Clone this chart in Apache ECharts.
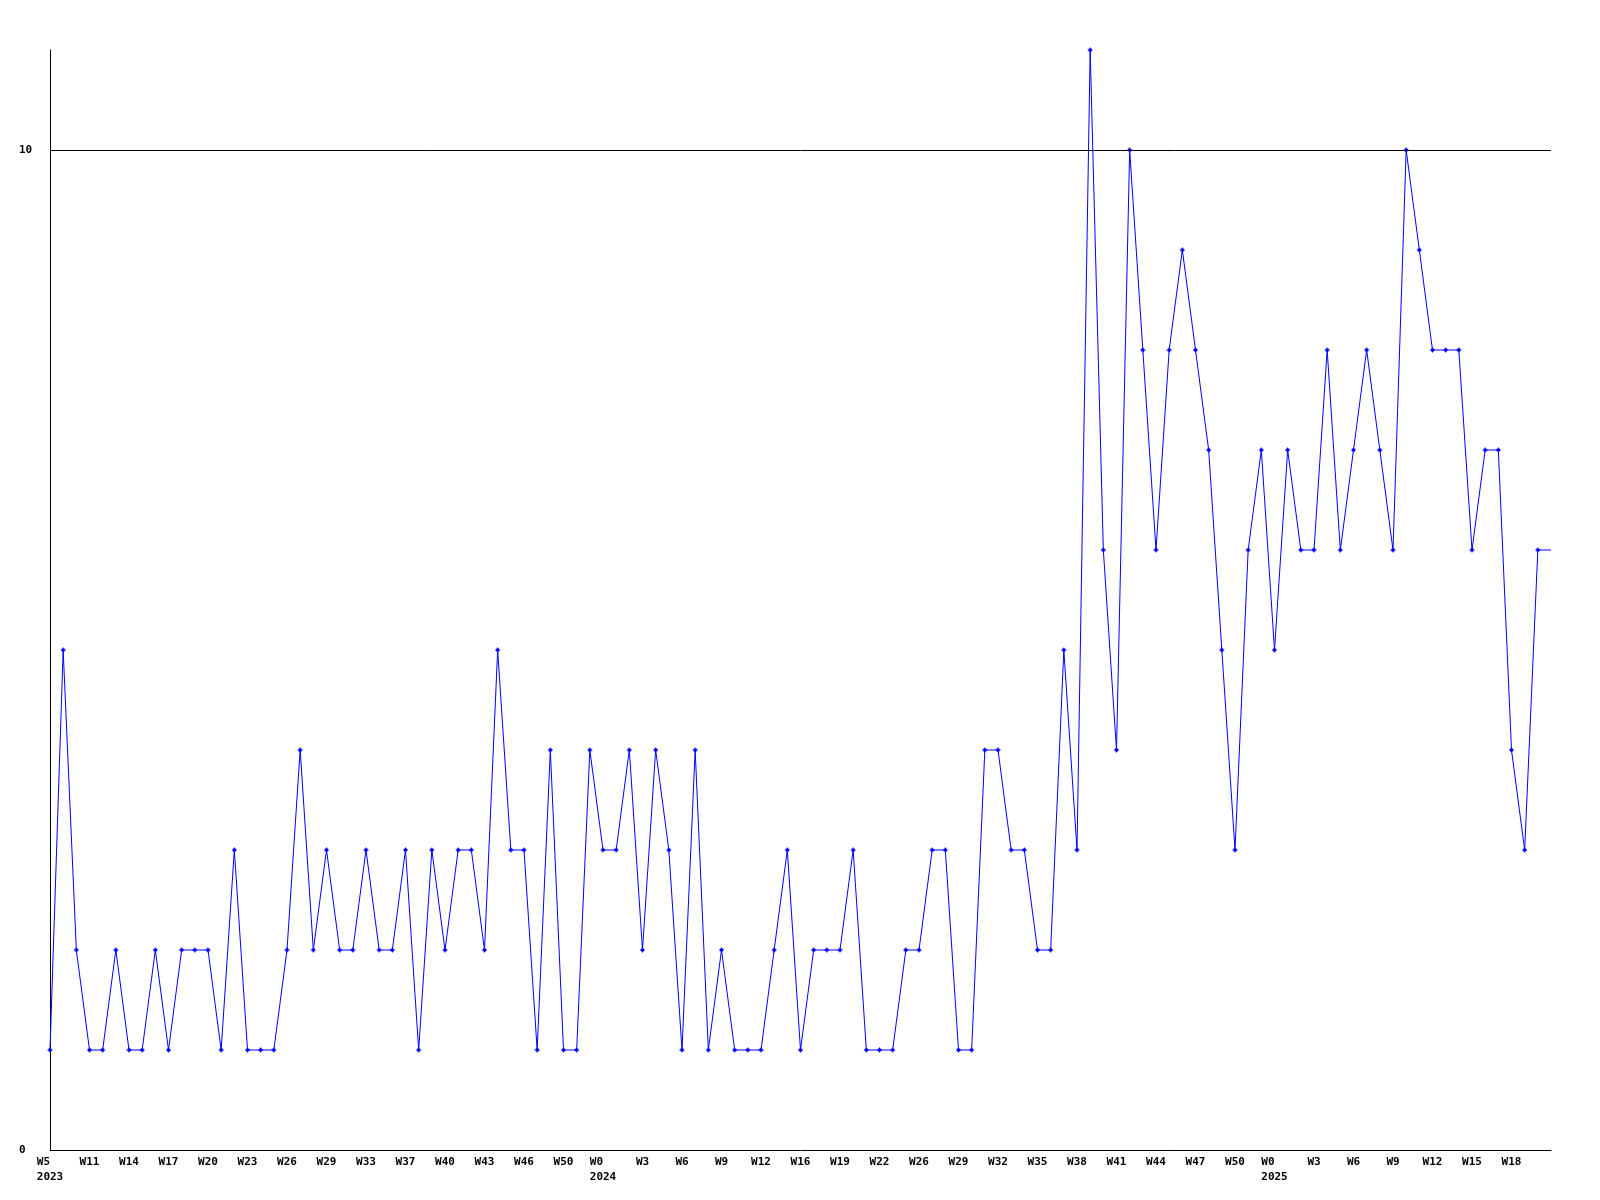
<!DOCTYPE html>
<html>
<head>
<meta charset="utf-8">
<script src="https://cdn.jsdelivr.net/npm/echarts@6/dist/echarts.min.js"></script>
<style>
html,body{margin:0;padding:0;background:#fff;}
#chart{width:1600px;height:1200px;}
</style>
</head>
<body>
<div id="chart"></div>
<script>
// Weekly values, one per point
const values = [
  1,5,2,1,1,2,1,1,2,1,
  2,2,2,1,3,1,1,1,2,4,
  2,3,2,2,3,2,2,3,1,3,
  2,3,3,2,5,3,3,1,4,1,
  1,4,3,3,4,2,4,3,1,4,
  1,2,1,1,1,2,3,1,2,2,
  2,3,1,1,1,2,2,3,3,1,
  1,4,4,3,3,2,2,5,3,11,
  6,4,10,8,6,8,9,8,7,5,
  3,6,7,5,7,6,6,8,6,7,
  8,7,6,10,9,8,8,8,6,7,
  7,4,3,6
];
// Tick labels, one every third point
const tickLabels = ['W5','W11','W14','W17','W20','W23','W26','W29','W33','W37','W40','W43','W46','W50',
  'W0','W3','W6','W9','W12','W16','W19','W22','W26','W29','W32','W35','W38','W41','W44','W47','W50',
  'W0','W3','W6','W9','W12','W15','W18'];
const years = ['2023','2024','2025'];
const yearTickIndex = [0, 14, 31];
const yTicks = [0, 10];
const refLine = 10;
const step = 3;

const n = values.length;
const categories = [];
for (let i = 0; i <= n; i++) categories.push('p' + i);

function labelFor(idx) {
  if (idx % step !== 0) return '';
  const t = idx / step;
  if (t >= tickLabels.length) return '';
  const yi = yearTickIndex.indexOf(t);
  if (yi >= 0) return '{a|' + tickLabels[t] + '}\n{a|' + years[yi] + '}';
  return '{a|' + tickLabels[t] + '}';
}

const seriesData = values.slice();
seriesData.push({ value: values[n - 1], symbol: 'none' });

const chart = echarts.init(document.getElementById('chart'), null, { renderer: 'canvas' });
const font = 'DejaVu Sans Mono';
chart.setOption({
  animation: false,
  backgroundColor: '#ffffff',
  grid: { left: 50, right: 49, top: 50, bottom: 50, containLabel: false },
  xAxis: {
    type: 'category',
    data: categories,
    boundaryGap: false,
    axisLine: { show: true, lineStyle: { color: '#000', width: 1 } },
    axisTick: { show: false },
    splitLine: { show: false },
    axisLabel: {
      interval: 0,
      margin: 5,
      formatter: (v, idx) => labelFor(idx),
      rich: {
        a: { fontFamily: font, fontWeight: 'bold', fontSize: 11, color: '#000', lineHeight: 15, align: 'left' }
      }
    }
  },
  yAxis: {
    type: 'value',
    min: 0,
    max: 11,
    interval: 10,
    axisLine: { show: true, lineStyle: { color: '#000', width: 1 } },
    axisTick: { show: false },
    splitLine: { show: false },
    axisLabel: {
      align: 'left',
      margin: 31,
      fontFamily: font,
      fontWeight: 'bold',
      fontSize: 11,
      color: '#000',
      formatter: v => (yTicks.indexOf(v) >= 0 ? String(v) : '')
    }
  },
  series: [{
    type: 'line',
    data: seriesData,
    symbol: 'path://M2,0H3V1H4V2H5V3H4V4H3V5H2V4H1V3H0V2H1V1H2Z',
    symbolSize: 5,
    showSymbol: true,
    showAllSymbol: true,
    lineStyle: { color: '#0000ff', width: 1 },
    itemStyle: { color: '#0000ff' },
    markLine: {
      silent: true,
      symbol: 'none',
      label: { show: false },
      lineStyle: { color: '#000', width: 1, type: 'solid' },
      data: [{ yAxis: refLine }]
    }
  }]
});
</script>
</body>
</html>
